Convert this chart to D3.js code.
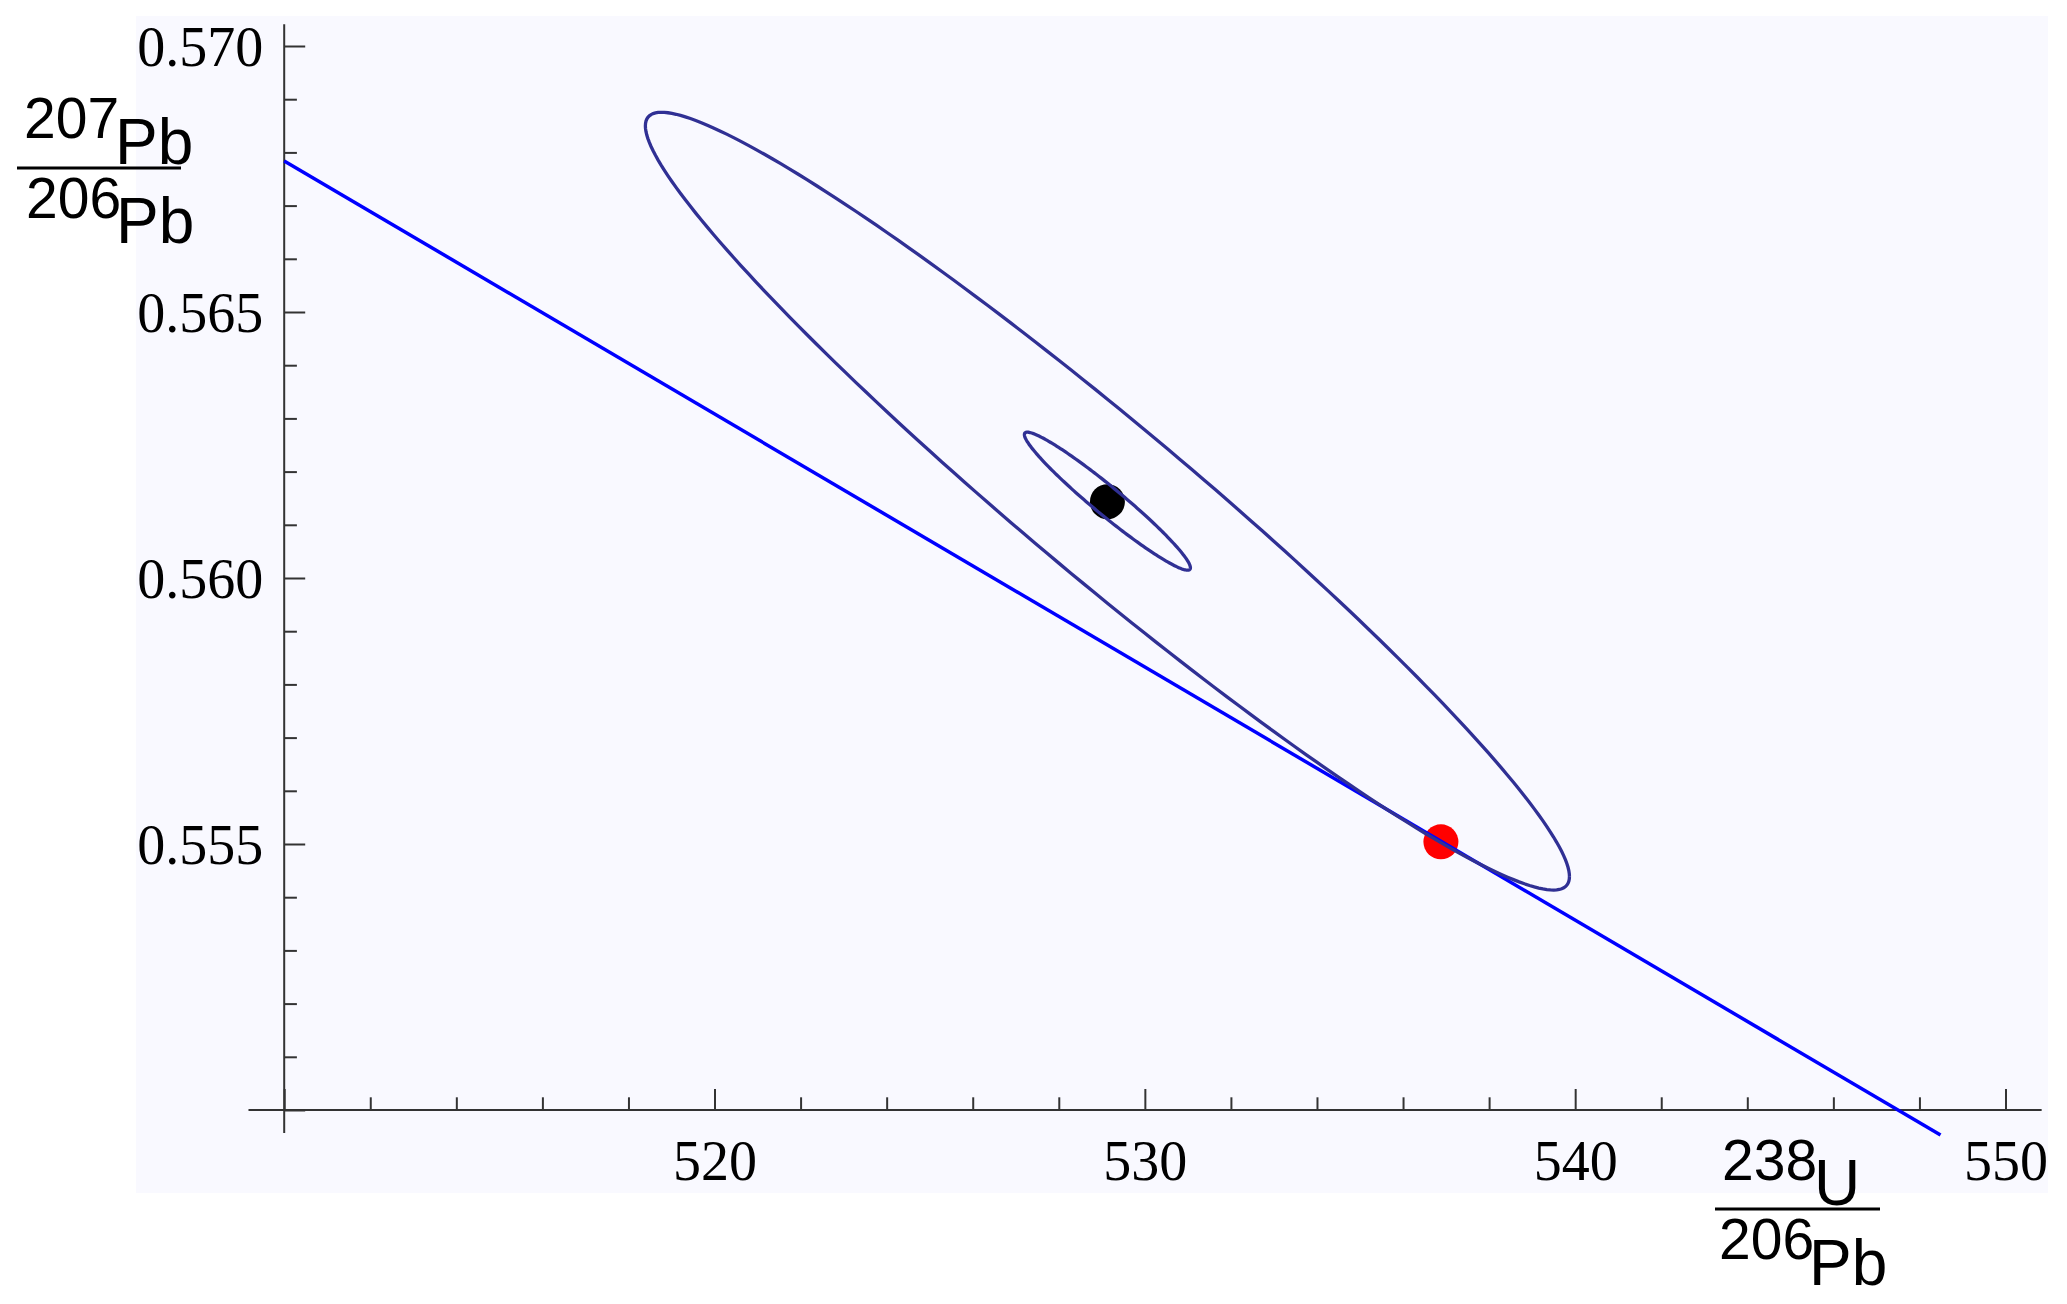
<!DOCTYPE html>
<html>
<head>
<meta charset="utf-8">
<script src="https://cdn.jsdelivr.net/npm/d3@7"></script>
<style>
  html, body { margin: 0; padding: 0; background: #ffffff; }
  svg { display: block; }
</style>
</head>
<body>
<svg id="chart" width="2067" height="1304"></svg>
<script>
// ---------------- data ----------------
const xMajorTicks = [510, 520, 530, 540, 550];
const xTickLabels = ["520", "530", "540", "550"];
const xLabeledTicks = [520, 530, 540, 550];
const xMinorTicks = [512, 514, 516, 518, 522, 524, 526, 528, 532, 534, 536, 538, 542, 544, 546, 548];
const yMajorTicks = [0.550, 0.555, 0.560, 0.565, 0.570];
const yLabeledTicks = [0.555, 0.560, 0.565, 0.570];
const yTickLabels = ["0.555", "0.560", "0.565", "0.570"];
const yMinorTicks = [0.551, 0.552, 0.553, 0.554, 0.556, 0.557, 0.558, 0.559, 0.561, 0.562, 0.563, 0.564, 0.566, 0.567, 0.568, 0.569];

// plot range (axis extents)
const xRange = [509.17, 550.84];
const yRange = [0.54957, 0.57041];

// reference line (two end points)
const lineX = [510, 548.49];
const lineY = [0.56784, 0.54953];

// error ellipses: center, sigma x, sigma y, correlation
const ellipseNames = ["outer", "inner"];
const ellipseCx = [529.13, 529.13];
const ellipseCy = [0.561444, 0.561444];
const ellipseSx = [10.737, 1.929];
const ellipseSy = [0.00731, 0.001297];
const ellipseRho = [-0.965, -0.965];

// points
const pointX = [529.13, 536.88];
const pointY = [0.561434, 0.55504];
const pointColor = ["#000000", "#ff0000"];

// ---------------- layout ----------------
const svg = d3.select("#chart");
const x = d3.scaleLinear().domain([510, 550]).range([284.2, 2005.5]);
const y = d3.scaleLinear().domain([0.550, 0.570]).range([1110, 46]);

// background panel
svg.append("rect")
  .attr("x", 136).attr("y", 16)
  .attr("width", 2048 - 136).attr("height", 1193 - 16)
  .attr("fill", "#f9f9ff");

const axisColor = "#333333";
const axes = svg.append("g");

// axis lines
axes.append("line")
  .attr("x1", x(xRange[0])).attr("x2", x(xRange[1]))
  .attr("y1", y(0.550)).attr("y2", y(0.550))
  .attr("stroke", axisColor).attr("stroke-width", 2);
axes.append("line")
  .attr("x1", x(510)).attr("x2", x(510))
  .attr("y1", y(yRange[0])).attr("y2", y(yRange[1]))
  .attr("stroke", axisColor).attr("stroke-width", 2);

function styleAxis(g) {
  g.select(".domain").remove();
  g.selectAll(".tick line").attr("stroke", axisColor).attr("stroke-width", 2);
}

// x ticks (pointing up, inside)
axes.append("g").attr("transform", `translate(0,${y(0.550)})`)
  .call(d3.axisTop(x).tickValues(xMinorTicks).tickSize(12.7).tickFormat(""))
  .call(styleAxis);
axes.append("g").attr("transform", `translate(0,${y(0.550)})`)
  .call(d3.axisTop(x).tickValues(xMajorTicks).tickSize(21).tickFormat(""))
  .call(styleAxis);
// x tick labels
const xl = axes.append("g").attr("transform", `translate(0,${y(0.550)})`)
  .call(d3.axisBottom(x).tickValues(xLabeledTicks).tickSize(0)
    .tickFormat((d, i) => xTickLabels[i]))
  .call(styleAxis);
xl.selectAll("text")
  .attr("y", 70).attr("dy", 0)
  .attr("font-family", "'Liberation Serif', 'Times New Roman', serif")
  .attr("font-size", 56).attr("fill", "#000");

// y ticks (pointing right, inside)
axes.append("g").attr("transform", `translate(${x(510)},0)`)
  .call(d3.axisRight(y).tickValues(yMinorTicks).tickSize(12.7).tickFormat(""))
  .call(styleAxis);
axes.append("g").attr("transform", `translate(${x(510)},0)`)
  .call(d3.axisRight(y).tickValues(yMajorTicks).tickSize(21).tickFormat(""))
  .call(styleAxis);
const yl = axes.append("g").attr("transform", `translate(${x(510)},0)`)
  .call(d3.axisLeft(y).tickValues(yLabeledTicks).tickSize(0).tickPadding(21)
    .tickFormat((d, i) => yTickLabels[i]))
  .call(styleAxis);
yl.selectAll("text")
  .attr("dy", "0.34em")
  .attr("font-family", "'Liberation Serif', 'Times New Roman', serif")
  .attr("font-size", 56).attr("fill", "#000");

// points (drawn under the curves)
svg.append("g").selectAll("circle")
  .data(pointX.map((d, i) => ({ x: d, y: pointY[i], c: pointColor[i] })))
  .join("circle")
  .attr("cx", d => x(d.x)).attr("cy", d => y(d.y))
  .attr("r", 17.5).attr("fill", d => d.c);

// reference line
svg.append("path")
  .datum(lineX.map((d, i) => [d, lineY[i]]))
  .attr("d", d3.line().x(d => x(d[0])).y(d => y(d[1])))
  .attr("fill", "none").attr("stroke", "#0000ff").attr("stroke-width", 3.5);

// ellipses
const nSeg = 240;
ellipseNames.forEach((name, k) => {
  const pts = d3.range(nSeg + 1).map(j => {
    const t = 2 * Math.PI * j / nSeg;
    const r = ellipseRho[k];
    return [
      ellipseCx[k] + ellipseSx[k] * Math.cos(t),
      ellipseCy[k] + ellipseSy[k] * (r * Math.cos(t) + Math.sqrt(1 - r * r) * Math.sin(t))
    ];
  });
  svg.append("path")
    .datum(pts)
    .attr("d", d3.line().x(d => x(d[0])).y(d => y(d[1])))
    .attr("fill", "none").attr("stroke", "#303094").attr("stroke-width", 3.3)
    .attr("class", "ellipse-" + name);
});

// axis labels (fractions)
const sans = "'Liberation Sans', Arial, sans-serif";
function fraction(parts) {
  const g = svg.append("g");
  parts.text.forEach(p => {
    g.append("text").attr("x", p.x).attr("y", p.y)
      .attr("font-family", sans).attr("font-size", p.size).attr("fill", "#000")
      .text(p.t);
  });
  g.append("line")
    .attr("x1", parts.bar[0]).attr("x2", parts.bar[1])
    .attr("y1", parts.bar[2]).attr("y2", parts.bar[2])
    .attr("stroke", "#000").attr("stroke-width", 3);
}
fraction({
  text: [
    { t: "207", x: 24, y: 138, size: 57 },
    { t: "Pb", x: 115, y: 164, size: 64 },
    { t: "206", x: 26, y: 218, size: 57 },
    { t: "Pb", x: 116, y: 243, size: 64 }
  ],
  bar: [17, 181, 168]
});
fraction({
  text: [
    { t: "238", x: 1722, y: 1180, size: 57 },
    { t: "U", x: 1814, y: 1205, size: 64 },
    { t: "206", x: 1719, y: 1259, size: 57 },
    { t: "Pb", x: 1809, y: 1285, size: 64 }
  ],
  bar: [1715, 1880, 1209]
});
</script>
</body>
</html>
